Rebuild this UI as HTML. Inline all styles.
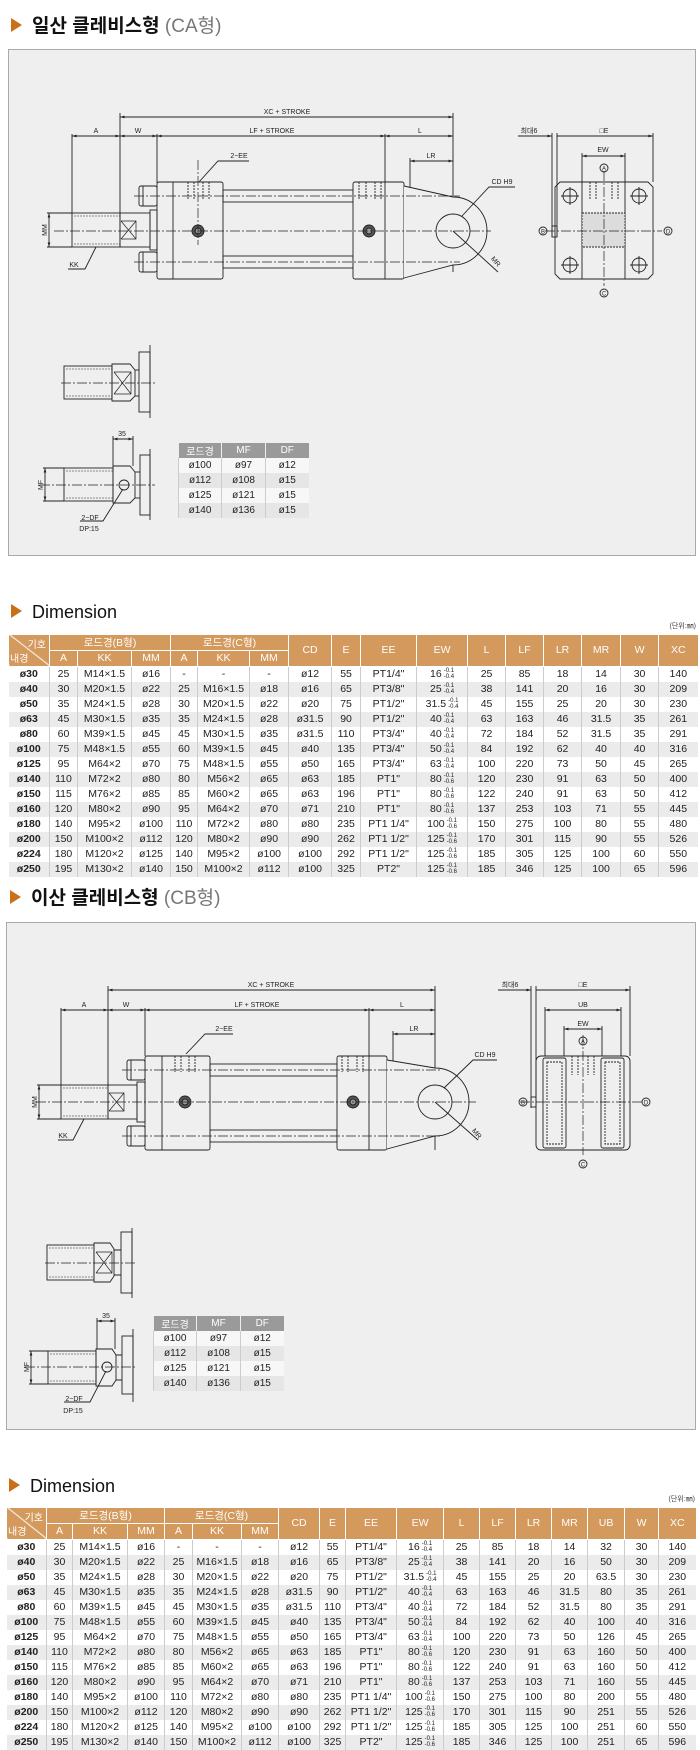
<!DOCTYPE html>
<html><head><meta charset="utf-8">
<style>
*{margin:0;padding:0;box-sizing:border-box}
body{width:700px;height:1750px;position:relative;background:#fff;font-family:"Liberation Sans","Noto Sans CJK KR",sans-serif;overflow:hidden}
svg{position:absolute;left:0;top:0}
table{position:absolute;border-collapse:collapse;table-layout:fixed;font-size:10.5px;color:#222;text-align:center}
table.big th{background:#d4995c;color:#fff;font-weight:normal;height:15px;border-left:1px solid #fff;border-bottom:1px solid #fff;font-size:10.5px;padding:0}
table.big td{height:15px;padding:0;border-left:1px solid #ccc;white-space:nowrap;line-height:15px}
table.big td:first-child{font-weight:bold;border-left:none}
table.big tr:nth-child(even) td{background:#ebebeb}
.t{display:inline-block;font-size:6px;line-height:6px;vertical-align:middle;text-align:left;margin-left:2px}
th.dg{background:#d4995c linear-gradient(to top right,transparent 49%,#fff 50%,transparent 53%) !important;position:relative}
th.dg span{position:absolute;font-size:10px}
table.sm{font-size:10px}
table.sm th{background:#9a9a9a;color:#fff;font-weight:normal;height:15px;border-left:1px solid #eee;padding:0}
table.sm td{height:15px;padding:0;border-left:1px solid #ccc;background:#f7f7f7}
table.sm tr:nth-child(odd) td{background:#e6e6e6}
.unit{position:absolute;font-size:7px;color:#444}
</style></head><body>
<svg width="700" height="1750" viewBox="0 0 700 1750" font-family="Liberation Sans, Noto Sans CJK KR, sans-serif">
<defs>
<marker id="a" viewBox="0 0 10 10" refX="10" refY="5" markerWidth="5" markerHeight="5" orient="auto-start-reverse"><path d="M0,2 L10,5 L0,8 Z" fill="#222"/></marker>
</defs>
<!-- Titles -->
<path d="M11,18 L22,25 L11,32 Z" fill="#c8701a"/>
<text x="32" y="32" font-size="19" font-weight="bold" fill="#111">일산 클레비스형 <tspan font-weight="normal" fill="#777">(CA형)</tspan></text>
<path d="M11,604 L22,611 L11,618 Z" fill="#c8701a"/>
<text x="32" y="618" font-size="18" fill="#111">Dimension</text>
<path d="M10,890 L21,897 L10,904 Z" fill="#c8701a"/>
<text x="31" y="904" font-size="19" font-weight="bold" fill="#111">이산 클레비스형 <tspan font-weight="normal" fill="#777">(CB형)</tspan></text>
<path d="M9,1478 L20,1485 L9,1492 Z" fill="#c8701a"/>
<text x="30" y="1492" font-size="18" fill="#111">Dimension</text>

<!-- Panels -->
<rect x="8.5" y="49.5" width="687" height="506" fill="#efefef" stroke="#aaa"/>
<rect x="6.5" y="922.5" width="689" height="507" fill="#efefef" stroke="#aaa"/>

<!-- ===== Panel 1 drawing ===== -->
<g stroke="#222" stroke-width="0.9" fill="none" font-size="7">
<line x1="120" y1="117" x2="453" y2="117" marker-start="url(#a)" marker-end="url(#a)"/>
<line x1="72" y1="136" x2="120" y2="136" marker-start="url(#a)" marker-end="url(#a)"/>
<line x1="120" y1="136" x2="157" y2="136" marker-start="url(#a)" marker-end="url(#a)"/>
<line x1="157" y1="136" x2="385" y2="136" marker-start="url(#a)" marker-end="url(#a)"/>
<line x1="385" y1="136" x2="453" y2="136" marker-start="url(#a)" marker-end="url(#a)"/>
<line x1="410" y1="161" x2="453" y2="161" marker-start="url(#a)" marker-end="url(#a)"/>
<path d="M72,134V213 M120,113V213 M157,134V183 M385,134V183 M453,113V272 M410,158V270"/>
<polyline points="249,161 218,161 199,182"/>
<rect x="157" y="182" width="66" height="97" rx="2" fill="#efefef"/>
<line x1="173" y1="182" x2="173" y2="279"/>
<rect x="139" y="186" width="18" height="20" rx="2" fill="#efefef"/>
<rect x="139" y="252" width="18" height="20" rx="2" fill="#efefef"/>
<path d="M143,186V206 M143,252V272"/>
<rect x="223" y="190" width="130" height="12"/>
<rect x="223" y="256" width="130" height="12"/>
<rect x="353" y="182" width="51" height="97" rx="2" fill="#efefef"/>
<line x1="385" y1="182" x2="385" y2="279"/>
<path d="M404,186 L453,197 A34,34 0 0 1 453,265 L404,278" fill="#efefef"/>
<circle cx="453" cy="231" r="17"/>
<path d="M188,182V200 M194,182V200 M203,182V200 M209,182V200 M359,182V200 M366,182V200 M375,182V200 M381,182V200" stroke-dasharray="2,1"/>
<circle cx="198" cy="231" r="6" fill="#555"/><circle cx="198" cy="231" r="3" fill="#999"/>
<circle cx="369" cy="231" r="6" fill="#555"/><circle cx="369" cy="231" r="3" fill="#999"/>
<path d="M134,196H460 M134,262H460 M54,231H491 M198,160V245" stroke-dasharray="10,2,2,2" stroke-width="0.7"/>
<rect x="72" y="213" width="48" height="34"/>
<path d="M74,216H120 M74,244H120" stroke-dasharray="2,1" stroke-width="0.6"/>
<rect x="120" y="213" width="30" height="34"/>
<path d="M121,221L136,239 M121,239L136,221 M121,221H136V239H121" stroke-width="0.7"/>
<rect x="150" y="210" width="7" height="40"/>
<path d="M47,213H72 M47,247H72"/>
<line x1="49" y1="213" x2="49" y2="247" marker-start="url(#a)" marker-end="url(#a)"/>
<polyline points="68,269 85,269 96,247"/>
<polyline points="515,187 489,187 462,216"/>
<line x1="453" y1="231" x2="498" y2="272"/>
<!-- right view -->
<path d="M560,182H648L653,187V274L648,279H560L555,274V187Z" fill="#efefef"/>
<path d="M582,182V279 M625,182V279"/>
<rect x="582" y="213" width="43" height="34" fill="#dcdcdc" stroke-dasharray="2,1"/>
<path d="M590,182V200 M596,182V200 M612,182V200 M618,182V200" stroke-dasharray="2,1"/>
<circle cx="570" cy="196" r="7"/><circle cx="639" cy="196" r="7"/><circle cx="570" cy="265" r="7"/><circle cx="639" cy="265" r="7"/>
<path d="M561,196H579 M570,187V205 M630,196H648 M639,187V205 M561,265H579 M570,256V274 M630,265H648 M639,256V274"/>
<path d="M545,231H662 M604,171V286" stroke-dasharray="10,2,2,2" stroke-width="0.7"/>
<line x1="582" y1="156" x2="625" y2="156" marker-start="url(#a)" marker-end="url(#a)"/>
<line x1="557" y1="136" x2="653" y2="136" marker-end="url(#a)"/>
<line x1="518" y1="136" x2="552" y2="136" marker-end="url(#a)"/>
<path d="M582,153V182 M625,153V182 M653,133V182 M552,133V237 M557,133V237"/>
<rect x="552" y="226" width="5" height="11"/>
<circle cx="604" cy="168" r="4"/><circle cx="604" cy="293" r="4"/><circle cx="543" cy="231" r="4"/><circle cx="668" cy="231" r="4"/>
<!-- lower details -->
<rect x="64" y="366" width="48" height="33"/>
<path d="M66,369H112 M66,396H112" stroke-dasharray="2,1" stroke-width="0.6"/>
<path d="M112,364H130L135,370V396L130,401H112Z"/>
<path d="M114,372L131,394 M114,394L131,372 M114,372H131V394H114" stroke-width="0.7"/>
<rect x="139" y="352" width="11" height="60"/><line x1="135" y1="370" x2="139" y2="370"/><line x1="135" y1="396" x2="139" y2="396"/>
<line x1="150" y1="345" x2="150" y2="418"/>
<line x1="61" y1="383" x2="155" y2="383" stroke-dasharray="10,2,2,2" stroke-width="0.7"/>
<rect x="64" y="468" width="49" height="33"/>
<path d="M66,471H113 M66,498H113" stroke-dasharray="2,1" stroke-width="0.6"/>
<path d="M113,466H130L135,472V498L130,503H113Z"/>
<circle cx="124" cy="485" r="5"/>
<rect x="140" y="455" width="10" height="60"/><line x1="135" y1="472" x2="140" y2="472"/><line x1="135" y1="498" x2="140" y2="498"/>
<line x1="150" y1="449" x2="150" y2="520"/>
<line x1="40" y1="485" x2="155" y2="485" stroke-dasharray="10,2,2,2" stroke-width="0.7"/>
<path d="M113,436V466 M133,436V466 M43,468H64 M43,501H64"/>
<line x1="113" y1="439" x2="133" y2="439" marker-start="url(#a)" marker-end="url(#a)"/>
<line x1="45" y1="468" x2="45" y2="501" marker-start="url(#a)" marker-end="url(#a)"/>
<polyline points="80,521 103,521 123,489"/>
</g>
<g font-size="7" fill="#222" text-anchor="middle">
<text x="287" y="114">XC + STROKE</text>
<text x="96" y="133">A</text><text x="138" y="133">W</text><text x="272" y="133">LF + STROKE</text><text x="420" y="133">L</text>
<text x="431" y="158">LR</text><text x="239" y="158">2−EE</text>
<text x="502" y="184">CD H9</text><text x="74" y="267">KK</text>
<text transform="translate(47,230) rotate(-90)">MM</text>
<text transform="translate(494,263) rotate(50)">MR</text>
<text x="603" y="152">EW</text><text x="604" y="133">□E</text><text x="529" y="133">최대6</text>
<text x="604" y="170.5" font-size="6">A</text><text x="604" y="295.5" font-size="6">C</text><text x="543" y="233.5" font-size="6">B</text><text x="668" y="233.5" font-size="6">D</text>
<text x="122" y="436">35</text>
<text transform="translate(43,485) rotate(-90)">MF</text>
<text x="90" y="520">2−DF</text><text x="89" y="531">DP:15</text>
</g>

<!-- ===== Panel 2 drawing ===== -->
<g stroke="#222" stroke-width="0.9" fill="none">
<line x1="108" y1="990" x2="435" y2="990" marker-start="url(#a)" marker-end="url(#a)"/>
<line x1="61" y1="1010" x2="108" y2="1010" marker-start="url(#a)" marker-end="url(#a)"/>
<line x1="108" y1="1010" x2="145" y2="1010" marker-start="url(#a)" marker-end="url(#a)"/>
<line x1="145" y1="1010" x2="369" y2="1010" marker-start="url(#a)" marker-end="url(#a)"/>
<line x1="369" y1="1010" x2="435" y2="1010" marker-start="url(#a)" marker-end="url(#a)"/>
<line x1="393" y1="1034" x2="435" y2="1034" marker-start="url(#a)" marker-end="url(#a)"/>
<path d="M61,1008V1085 M108,986V1085 M145,1008V1056 M369,1008V1056 M435,986V1150 M393,1031V1140"/>
<polyline points="233,1034 205,1034 186,1054"/>
<rect x="145" y="1056" width="65" height="94" rx="2" fill="#efefef"/>
<line x1="162" y1="1056" x2="162" y2="1150"/>
<rect x="127" y="1060" width="18" height="20" rx="2" fill="#efefef"/>
<rect x="127" y="1126" width="18" height="20" rx="2" fill="#efefef"/>
<path d="M131,1060V1080 M131,1126V1146"/>
<rect x="210" y="1064" width="127" height="12"/>
<rect x="210" y="1130" width="127" height="12"/>
<rect x="337" y="1056" width="50" height="94" rx="2" fill="#efefef"/>
<line x1="369" y1="1056" x2="369" y2="1150"/>
<path d="M387,1060 L435,1068 A34,34 0 0 1 435,1136 L387,1149" fill="#efefef"/>
<circle cx="435" cy="1102" r="17"/>
<path d="M175,1056V1072 M181,1056V1072 M189,1056V1072 M195,1056V1072 M342,1056V1072 M348,1056V1072 M357,1056V1072 M363,1056V1072" stroke-dasharray="2,1"/>
<circle cx="185" cy="1102" r="6" fill="#555"/><circle cx="185" cy="1102" r="3" fill="#999"/>
<circle cx="353" cy="1102" r="6" fill="#555"/><circle cx="353" cy="1102" r="3" fill="#999"/>
<path d="M122,1070H440 M122,1136H440 M36,1102H476" stroke-dasharray="10,2,2,2" stroke-width="0.7"/>
<rect x="61" y="1085" width="47" height="34"/>
<path d="M63,1088H108 M63,1116H108" stroke-dasharray="2,1" stroke-width="0.6"/>
<rect x="108" y="1085" width="29" height="34"/>
<path d="M109,1093L124,1111 M109,1111L124,1093 M109,1093H124V1111H109" stroke-width="0.7"/>
<rect x="137" y="1082" width="8" height="40"/>
<path d="M37,1085H61 M37,1119H61"/>
<line x1="39" y1="1085" x2="39" y2="1119" marker-start="url(#a)" marker-end="url(#a)"/>
<polyline points="58,1140 73,1140 84,1119"/>
<polyline points="497,1060 473,1060 444,1088"/>
<line x1="435" y1="1102" x2="478" y2="1140"/>
<!-- right view -->
<rect x="536" y="1056" width="94" height="94" rx="5" fill="#efefef"/>
<rect x="543" y="1058" width="23" height="90" rx="2"/><rect x="547" y="1062" width="15" height="82" stroke-dasharray="2,1"/>
<rect x="601" y="1058" width="23" height="90" rx="2"/><rect x="605" y="1062" width="15" height="82" stroke-dasharray="2,1"/>
<path d="M572,1056V1075 M578,1056V1075 M588,1056V1075 M594,1056V1075" stroke-dasharray="2,1"/>
<path d="M520,1102H642 M583,1035V1155" stroke-dasharray="10,2,2,2" stroke-width="0.7"/>
<line x1="536" y1="990" x2="630" y2="990" marker-end="url(#a)"/>
<line x1="498" y1="990" x2="531" y2="990" marker-end="url(#a)"/>
<line x1="545" y1="1010" x2="621" y2="1010" marker-start="url(#a)" marker-end="url(#a)"/>
<line x1="564" y1="1029" x2="602" y2="1029" marker-start="url(#a)" marker-end="url(#a)"/>
<path d="M630,986V1056 M545,1007V1056 M621,1007V1056 M564,1026V1056 M602,1026V1056 M531,986V1108 M536,986V1108"/>
<rect x="531" y="1097" width="5" height="10"/>
<circle cx="583" cy="1041" r="4"/><circle cx="583" cy="1164" r="4"/><circle cx="523" cy="1102" r="4"/><circle cx="646" cy="1102" r="4"/>
<!-- lower details -->
<rect x="47" y="1245" width="47" height="35"/>
<path d="M49,1248H94 M49,1277H94" stroke-dasharray="2,1" stroke-width="0.6"/>
<path d="M94,1243H110L114,1249V1276L110,1282H94Z"/>
<path d="M96,1252L112,1273 M96,1273L112,1252 M96,1252H112V1273H96" stroke-width="0.7"/>
<path d="M114,1250H121 M114,1275H121"/>
<rect x="121" y="1232" width="11" height="61"/>
<line x1="132" y1="1228" x2="132" y2="1298"/>
<line x1="45" y1="1263" x2="137" y2="1263" stroke-dasharray="10,2,2,2" stroke-width="0.7"/>
<rect x="48" y="1351" width="48" height="33"/>
<path d="M50,1354H96 M50,1381H96" stroke-dasharray="2,1" stroke-width="0.6"/>
<path d="M96,1349H112L116,1355V1380L112,1386H96Z"/>
<circle cx="107" cy="1367" r="5"/>
<path d="M116,1355H122 M116,1380H122"/>
<rect x="122" y="1336" width="11" height="58"/>
<line x1="133" y1="1329" x2="133" y2="1402"/>
<line x1="25" y1="1367" x2="137" y2="1367" stroke-dasharray="10,2,2,2" stroke-width="0.7"/>
<path d="M97,1318V1349 M115,1318V1349 M29,1351H48 M29,1384H48"/>
<line x1="97" y1="1321" x2="115" y2="1321" marker-start="url(#a)" marker-end="url(#a)"/>
<line x1="31" y1="1351" x2="31" y2="1384" marker-start="url(#a)" marker-end="url(#a)"/>
<polyline points="64,1402 90,1402 106,1371"/>
</g>
<g font-size="7" fill="#222" text-anchor="middle">
<text x="271" y="987">XC + STROKE</text>
<text x="84" y="1007">A</text><text x="126" y="1007">W</text><text x="257" y="1007">LF + STROKE</text><text x="402" y="1007">L</text>
<text x="414" y="1031">LR</text><text x="224" y="1031">2−EE</text>
<text x="485" y="1057">CD H9</text><text x="63" y="1138">KK</text>
<text transform="translate(37,1102) rotate(-90)">MM</text>
<text transform="translate(475,1135) rotate(50)">MR</text>
<text x="583" y="987">□E</text><text x="583" y="1007">UB</text><text x="583" y="1026">EW</text><text x="510" y="987">최대6</text>
<text x="583" y="1043.5" font-size="6">A</text><text x="583" y="1166.5" font-size="6">C</text><text x="523" y="1104.5" font-size="6">B</text><text x="646" y="1104.5" font-size="6">D</text>
<text x="106" y="1318">35</text>
<text transform="translate(29,1367) rotate(-90)">MF</text>
<text x="74" y="1401">2−DF</text><text x="73" y="1413">DP:15</text>
</g>
</svg>

<!-- small tables -->
<table class="sm" style="left:178px;top:443px;width:130px">
<colgroup><col style="width:43px"><col style="width:44px"><col style="width:43px"></colgroup>
<tr><th>로드경</th><th>MF</th><th>DF</th></tr>
<tr><td>ø100</td><td>ø97</td><td>ø12</td></tr>
<tr><td>ø112</td><td>ø108</td><td>ø15</td></tr>
<tr><td>ø125</td><td>ø121</td><td>ø15</td></tr>
<tr><td>ø140</td><td>ø136</td><td>ø15</td></tr>
</table>
<table class="sm" style="left:153px;top:1316px;width:130px">
<colgroup><col style="width:43px"><col style="width:44px"><col style="width:43px"></colgroup>
<tr><th>로드경</th><th>MF</th><th>DF</th></tr>
<tr><td>ø100</td><td>ø97</td><td>ø12</td></tr>
<tr><td>ø112</td><td>ø108</td><td>ø15</td></tr>
<tr><td>ø125</td><td>ø121</td><td>ø15</td></tr>
<tr><td>ø140</td><td>ø136</td><td>ø15</td></tr>
</table>

<div class="unit" style="right:4px;top:621px">(단위:㎜)</div>
<div class="unit" style="right:5px;top:1494px">(단위:㎜)</div>

<!-- Table 1 -->
<table class="big" style="left:8px;top:635px;width:689px">
<colgroup><col style="width:41px"><col style="width:28px"><col style="width:54px"><col style="width:39px"><col style="width:27px"><col style="width:52px"><col style="width:39px"><col style="width:43px"><col style="width:29px"><col style="width:56px"><col style="width:51px"><col style="width:38px"><col style="width:38px"><col style="width:38px"><col style="width:39px"><col style="width:38px"><col style="width:39px"></colgroup>
<tr><th class="dg" rowspan="2" style="height:31px"><span style="right:3px;top:1px">기호</span><span style="left:1px;bottom:1px">내경</span></th><th colspan="3">로드경(B형)</th><th colspan="3">로드경(C형)</th><th rowspan="2">CD</th><th rowspan="2">E</th><th rowspan="2">EE</th><th rowspan="2">EW</th><th rowspan="2">L</th><th rowspan="2">LF</th><th rowspan="2">LR</th><th rowspan="2">MR</th><th rowspan="2">W</th><th rowspan="2">XC</th></tr>
<tr><th>A</th><th>KK</th><th>MM</th><th>A</th><th>KK</th><th>MM</th></tr>
<tr><td>ø30</td><td>25</td><td>M14×1.5</td><td>ø16</td><td>-</td><td>-</td><td>-</td><td>ø12</td><td>55</td><td>PT1/4"</td><td>16<span class="t">-0.1<br>-0.4</span></td><td>25</td><td>85</td><td>18</td><td>14</td><td>30</td><td>140</td></tr>
<tr><td>ø40</td><td>30</td><td>M20×1.5</td><td>ø22</td><td>25</td><td>M16×1.5</td><td>ø18</td><td>ø16</td><td>65</td><td>PT3/8"</td><td>25<span class="t">-0.1<br>-0.4</span></td><td>38</td><td>141</td><td>20</td><td>16</td><td>30</td><td>209</td></tr>
<tr><td>ø50</td><td>35</td><td>M24×1.5</td><td>ø28</td><td>30</td><td>M20×1.5</td><td>ø22</td><td>ø20</td><td>75</td><td>PT1/2"</td><td>31.5<span class="t">-0.1<br>-0.4</span></td><td>45</td><td>155</td><td>25</td><td>20</td><td>30</td><td>230</td></tr>
<tr><td>ø63</td><td>45</td><td>M30×1.5</td><td>ø35</td><td>35</td><td>M24×1.5</td><td>ø28</td><td>ø31.5</td><td>90</td><td>PT1/2"</td><td>40<span class="t">-0.1<br>-0.4</span></td><td>63</td><td>163</td><td>46</td><td>31.5</td><td>35</td><td>261</td></tr>
<tr><td>ø80</td><td>60</td><td>M39×1.5</td><td>ø45</td><td>45</td><td>M30×1.5</td><td>ø35</td><td>ø31.5</td><td>110</td><td>PT3/4"</td><td>40<span class="t">-0.1<br>-0.4</span></td><td>72</td><td>184</td><td>52</td><td>31.5</td><td>35</td><td>291</td></tr>
<tr><td>ø100</td><td>75</td><td>M48×1.5</td><td>ø55</td><td>60</td><td>M39×1.5</td><td>ø45</td><td>ø40</td><td>135</td><td>PT3/4"</td><td>50<span class="t">-0.1<br>-0.4</span></td><td>84</td><td>192</td><td>62</td><td>40</td><td>40</td><td>316</td></tr>
<tr><td>ø125</td><td>95</td><td>M64×2</td><td>ø70</td><td>75</td><td>M48×1.5</td><td>ø55</td><td>ø50</td><td>165</td><td>PT3/4"</td><td>63<span class="t">-0.1<br>-0.4</span></td><td>100</td><td>220</td><td>73</td><td>50</td><td>45</td><td>265</td></tr>
<tr><td>ø140</td><td>110</td><td>M72×2</td><td>ø80</td><td>80</td><td>M56×2</td><td>ø65</td><td>ø63</td><td>185</td><td>PT1"</td><td>80<span class="t">-0.1<br>-0.6</span></td><td>120</td><td>230</td><td>91</td><td>63</td><td>50</td><td>400</td></tr>
<tr><td>ø150</td><td>115</td><td>M76×2</td><td>ø85</td><td>85</td><td>M60×2</td><td>ø65</td><td>ø63</td><td>196</td><td>PT1"</td><td>80<span class="t">-0.1<br>-0.6</span></td><td>122</td><td>240</td><td>91</td><td>63</td><td>50</td><td>412</td></tr>
<tr><td>ø160</td><td>120</td><td>M80×2</td><td>ø90</td><td>95</td><td>M64×2</td><td>ø70</td><td>ø71</td><td>210</td><td>PT1"</td><td>80<span class="t">-0.1<br>-0.6</span></td><td>137</td><td>253</td><td>103</td><td>71</td><td>55</td><td>445</td></tr>
<tr><td>ø180</td><td>140</td><td>M95×2</td><td>ø100</td><td>110</td><td>M72×2</td><td>ø80</td><td>ø80</td><td>235</td><td>PT1 1/4"</td><td>100<span class="t">-0.1<br>-0.6</span></td><td>150</td><td>275</td><td>100</td><td>80</td><td>55</td><td>480</td></tr>
<tr><td>ø200</td><td>150</td><td>M100×2</td><td>ø112</td><td>120</td><td>M80×2</td><td>ø90</td><td>ø90</td><td>262</td><td>PT1 1/2"</td><td>125<span class="t">-0.1<br>-0.6</span></td><td>170</td><td>301</td><td>115</td><td>90</td><td>55</td><td>526</td></tr>
<tr><td>ø224</td><td>180</td><td>M120×2</td><td>ø125</td><td>140</td><td>M95×2</td><td>ø100</td><td>ø100</td><td>292</td><td>PT1 1/2"</td><td>125<span class="t">-0.1<br>-0.6</span></td><td>185</td><td>305</td><td>125</td><td>100</td><td>60</td><td>550</td></tr>
<tr><td>ø250</td><td>195</td><td>M130×2</td><td>ø140</td><td>150</td><td>M100×2</td><td>ø112</td><td>ø100</td><td>325</td><td>PT2"</td><td>125<span class="t">-0.1<br>-0.6</span></td><td>185</td><td>346</td><td>125</td><td>100</td><td>65</td><td>596</td></tr>
</table>

<!-- Table 2 -->
<table class="big" style="left:6px;top:1508px;width:689px">
<colgroup><col style="width:40px"><col style="width:26px"><col style="width:55px"><col style="width:37px"><col style="width:28px"><col style="width:49px"><col style="width:37px"><col style="width:41px"><col style="width:26px"><col style="width:51px"><col style="width:47px"><col style="width:36px"><col style="width:36px"><col style="width:36px"><col style="width:36px"><col style="width:37px"><col style="width:34px"><col style="width:37px"></colgroup>
<tr><th class="dg" rowspan="2" style="height:31px"><span style="right:3px;top:1px">기호</span><span style="left:1px;bottom:1px">내경</span></th><th colspan="3">로드경(B형)</th><th colspan="3">로드경(C형)</th><th rowspan="2">CD</th><th rowspan="2">E</th><th rowspan="2">EE</th><th rowspan="2">EW</th><th rowspan="2">L</th><th rowspan="2">LF</th><th rowspan="2">LR</th><th rowspan="2">MR</th><th rowspan="2">UB</th><th rowspan="2">W</th><th rowspan="2">XC</th></tr>
<tr><th>A</th><th>KK</th><th>MM</th><th>A</th><th>KK</th><th>MM</th></tr>
<tr><td>ø30</td><td>25</td><td>M14×1.5</td><td>ø16</td><td>-</td><td>-</td><td>-</td><td>ø12</td><td>55</td><td>PT1/4"</td><td>16<span class="t">-0.1<br>-0.4</span></td><td>25</td><td>85</td><td>18</td><td>14</td><td>32</td><td>30</td><td>140</td></tr>
<tr><td>ø40</td><td>30</td><td>M20×1.5</td><td>ø22</td><td>25</td><td>M16×1.5</td><td>ø18</td><td>ø16</td><td>65</td><td>PT3/8"</td><td>25<span class="t">-0.1<br>-0.4</span></td><td>38</td><td>141</td><td>20</td><td>16</td><td>50</td><td>30</td><td>209</td></tr>
<tr><td>ø50</td><td>35</td><td>M24×1.5</td><td>ø28</td><td>30</td><td>M20×1.5</td><td>ø22</td><td>ø20</td><td>75</td><td>PT1/2"</td><td>31.5<span class="t">-0.1<br>-0.4</span></td><td>45</td><td>155</td><td>25</td><td>20</td><td>63.5</td><td>30</td><td>230</td></tr>
<tr><td>ø63</td><td>45</td><td>M30×1.5</td><td>ø35</td><td>35</td><td>M24×1.5</td><td>ø28</td><td>ø31.5</td><td>90</td><td>PT1/2"</td><td>40<span class="t">-0.1<br>-0.4</span></td><td>63</td><td>163</td><td>46</td><td>31.5</td><td>80</td><td>35</td><td>261</td></tr>
<tr><td>ø80</td><td>60</td><td>M39×1.5</td><td>ø45</td><td>45</td><td>M30×1.5</td><td>ø35</td><td>ø31.5</td><td>110</td><td>PT3/4"</td><td>40<span class="t">-0.1<br>-0.4</span></td><td>72</td><td>184</td><td>52</td><td>31.5</td><td>80</td><td>35</td><td>291</td></tr>
<tr><td>ø100</td><td>75</td><td>M48×1.5</td><td>ø55</td><td>60</td><td>M39×1.5</td><td>ø45</td><td>ø40</td><td>135</td><td>PT3/4"</td><td>50<span class="t">-0.1<br>-0.4</span></td><td>84</td><td>192</td><td>62</td><td>40</td><td>100</td><td>40</td><td>316</td></tr>
<tr><td>ø125</td><td>95</td><td>M64×2</td><td>ø70</td><td>75</td><td>M48×1.5</td><td>ø55</td><td>ø50</td><td>165</td><td>PT3/4"</td><td>63<span class="t">-0.1<br>-0.4</span></td><td>100</td><td>220</td><td>73</td><td>50</td><td>126</td><td>45</td><td>265</td></tr>
<tr><td>ø140</td><td>110</td><td>M72×2</td><td>ø80</td><td>80</td><td>M56×2</td><td>ø65</td><td>ø63</td><td>185</td><td>PT1"</td><td>80<span class="t">-0.1<br>-0.6</span></td><td>120</td><td>230</td><td>91</td><td>63</td><td>160</td><td>50</td><td>400</td></tr>
<tr><td>ø150</td><td>115</td><td>M76×2</td><td>ø85</td><td>85</td><td>M60×2</td><td>ø65</td><td>ø63</td><td>196</td><td>PT1"</td><td>80<span class="t">-0.1<br>-0.6</span></td><td>122</td><td>240</td><td>91</td><td>63</td><td>160</td><td>50</td><td>412</td></tr>
<tr><td>ø160</td><td>120</td><td>M80×2</td><td>ø90</td><td>95</td><td>M64×2</td><td>ø70</td><td>ø71</td><td>210</td><td>PT1"</td><td>80<span class="t">-0.1<br>-0.6</span></td><td>137</td><td>253</td><td>103</td><td>71</td><td>160</td><td>55</td><td>445</td></tr>
<tr><td>ø180</td><td>140</td><td>M95×2</td><td>ø100</td><td>110</td><td>M72×2</td><td>ø80</td><td>ø80</td><td>235</td><td>PT1 1/4"</td><td>100<span class="t">-0.1<br>-0.6</span></td><td>150</td><td>275</td><td>100</td><td>80</td><td>200</td><td>55</td><td>480</td></tr>
<tr><td>ø200</td><td>150</td><td>M100×2</td><td>ø112</td><td>120</td><td>M80×2</td><td>ø90</td><td>ø90</td><td>262</td><td>PT1 1/2"</td><td>125<span class="t">-0.1<br>-0.6</span></td><td>170</td><td>301</td><td>115</td><td>90</td><td>251</td><td>55</td><td>526</td></tr>
<tr><td>ø224</td><td>180</td><td>M120×2</td><td>ø125</td><td>140</td><td>M95×2</td><td>ø100</td><td>ø100</td><td>292</td><td>PT1 1/2"</td><td>125<span class="t">-0.1<br>-0.6</span></td><td>185</td><td>305</td><td>125</td><td>100</td><td>251</td><td>60</td><td>550</td></tr>
<tr><td>ø250</td><td>195</td><td>M130×2</td><td>ø140</td><td>150</td><td>M100×2</td><td>ø112</td><td>ø100</td><td>325</td><td>PT2"</td><td>125<span class="t">-0.1<br>-0.6</span></td><td>185</td><td>346</td><td>125</td><td>100</td><td>251</td><td>65</td><td>596</td></tr>
</table>
</body></html>
